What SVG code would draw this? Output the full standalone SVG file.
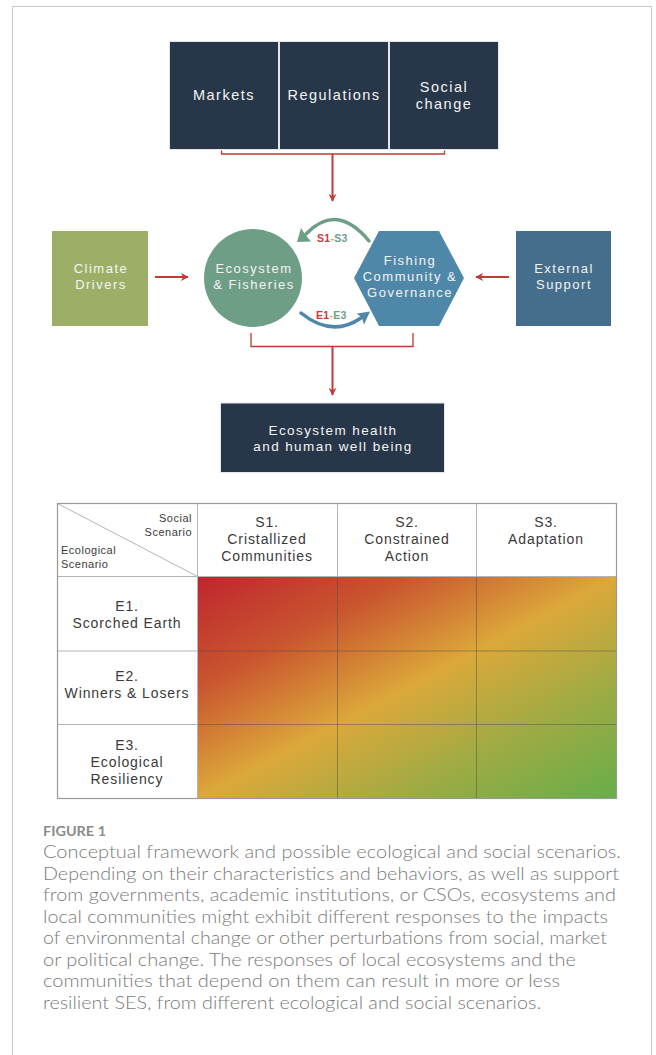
<svg xmlns="http://www.w3.org/2000/svg" width="656" height="1055" viewBox="0 0 656 1055">
<style>
.dark{fill:#273648;stroke:#e4e6e9;stroke-width:1}
.lbl{font-family:"Liberation Sans",Arial,sans-serif;fill:#f2f4f5;text-anchor:middle}
.big{font-size:14.5px;letter-spacing:1.5px}
.mid{font-size:13px;letter-spacing:1.5px}
.tbl{font-family:"Liberation Sans",Arial,sans-serif;fill:#3a3a3a;text-anchor:middle;font-size:14px;letter-spacing:0.9px}
.small{font-family:"Liberation Sans",Arial,sans-serif;fill:#3a3a3a;font-size:11px;letter-spacing:0.5px}
.tag{font-family:"Liberation Sans",Arial,sans-serif;font-weight:bold;font-size:10.5px;letter-spacing:0.3px}
.cap{font-family:Lato,"Open Sans",sans-serif;fill:#7a7a7a;font-size:17.5px;font-weight:300}
.red{stroke:#c23a33;fill:none}
.grid{stroke:#4a4a4a;stroke-opacity:0.45;stroke-width:1;fill:none}
.hgrid{stroke:#b4b4b4;stroke-width:1;fill:none}
</style>
<defs>
<marker id="ra" viewBox="0 0 10 10" refX="9" refY="5" markerWidth="8" markerHeight="9" markerUnits="userSpaceOnUse" orient="auto">
<path d="M0,0 L10,5 L0,10 L3,5 z" fill="#c23a33"/>
</marker>
<linearGradient id="heat" x1="0" y1="0" x2="1" y2="1">
<stop offset="0" stop-color="#c0252e"/>
<stop offset="0.25" stop-color="#c9552f"/>
<stop offset="0.5" stop-color="#dca83a"/>
<stop offset="0.75" stop-color="#9cab44"/>
<stop offset="1" stop-color="#66ae4a"/>
</linearGradient>
</defs>
<rect width="656" height="1055" fill="#ffffff"/>
<path d="M12.5,1055 V6.5 H651.5 V1055" fill="none" stroke="#c8c8c8" stroke-width="1"/>

<g id="markets"><rect class="dark" x="169.5" y="41.5" width="109" height="108"/><text class="lbl big" x="224" y="100">Markets</text></g>
<g id="regulations"><rect class="dark" x="279.5" y="41.5" width="109" height="108"/><text class="lbl big" x="334" y="100">Regulations</text></g>
<g id="social-change"><rect class="dark" x="389.5" y="41.5" width="109" height="108"/><text class="lbl big" x="444" y="92">Social</text><text class="lbl big" x="444" y="108.5">change</text></g>

<g id="climate"><rect x="52" y="231" width="96" height="95" fill="#9daf67"/><text class="lbl mid" x="101" y="273">Climate</text><text class="lbl mid" x="101" y="289">Drivers</text></g>
<g id="ecosystem"><circle cx="253" cy="278" r="49" fill="#6f9e86"/><text class="lbl mid" x="254" y="273">Ecosystem</text><text class="lbl mid" x="254" y="289">&amp; Fisheries</text></g>
<g id="community"><polygon points="354,278 379,231 439,231 464,278 439,326 379,326" fill="#4f87a8"/><text class="lbl mid" x="410" y="265">Fishing</text><text class="lbl mid" x="410" y="281">Community &amp;</text><text class="lbl mid" x="410" y="297">Governance</text></g>
<g id="external"><rect x="516" y="231" width="95" height="95" fill="#456e8c"/><text class="lbl mid" x="564" y="273">External</text><text class="lbl mid" x="564" y="289">Support</text></g>

<g id="outcome"><rect class="dark" x="220.5" y="403" width="224" height="69.5"/><text class="lbl mid" x="333" y="434.5" style="font-size:13.5px;letter-spacing:1.4px">Ecosystem health</text><text class="lbl mid" x="333" y="450.5" style="font-size:13.5px;letter-spacing:1.4px">and human well being</text></g>

<g id="connectors">
<path class="red" stroke-width="1.3" d="M221.5,150.5 V154 H444.5 V150.5"/>
<path class="red" stroke-width="2" d="M332.5,154 V201" marker-end="url(#ra)"/>
<path class="red" stroke-width="2" d="M155,277 H188" marker-end="url(#ra)"/>
<path class="red" stroke-width="2" d="M509,277 H476" marker-end="url(#ra)"/>
<path class="red" stroke-width="1.3" d="M251,333 V346.5 H413 V333"/>
<path class="red" stroke-width="2" d="M332.5,346.5 V395" marker-end="url(#ra)"/>
<path d="M369,241 Q337,202 306,234" fill="none" stroke="#6f9e86" stroke-width="3.5" stroke-linecap="round"/>
<polygon points="297,242 301,228 305.5,235 311,241.5" fill="#6f9e86"/>
<path d="M301,313 Q332,338 361,318" fill="none" stroke="#4f87a8" stroke-width="3.5" stroke-linecap="round"/>
<polygon points="370,311.5 357,313.5 362,318 364,324.5" fill="#4f87a8"/>
<text class="tag" x="317" y="241.5"><tspan fill="#c8383b">S1</tspan><tspan fill="#e8a33d">-</tspan><tspan fill="#6f9e86">S3</tspan></text>
<text class="tag" x="316" y="318.5"><tspan fill="#c8383b">E1</tspan><tspan fill="#e8a33d">-</tspan><tspan fill="#6f9e86">E3</tspan></text>
</g>

<g id="table">
<rect x="197.5" y="576.5" width="419" height="222" fill="url(#heat)"/>
<path class="grid" d="M337.5,576.5 V798.5 M476.5,576.5 V798.5 M197.5,651 H616.5 M197.5,724.5 H616.5"/>
<path class="hgrid" d="M57.5,576.5 H616.5 M197.5,503.5 V798.5 M337.5,503.5 V576.5 M476.5,503.5 V576.5 M57.5,651 H197.5 M57.5,724.5 H197.5 M57.5,503.5 L197.5,576.5"/>
<rect x="57.5" y="503.5" width="559" height="295" fill="none" stroke="#9a9a9a" stroke-width="1.2"/>
<text class="small" x="192" y="522" text-anchor="end">Social</text>
<text class="small" x="192" y="536" text-anchor="end">Scenario</text>
<text class="small" x="61" y="553.5">Ecological</text>
<text class="small" x="61" y="567.5">Scenario</text>
<text class="tbl" x="267" y="527">S1.</text><text class="tbl" x="267" y="544">Cristallized</text><text class="tbl" x="267" y="561">Communities</text>
<text class="tbl" x="407" y="527">S2.</text><text class="tbl" x="407" y="544">Constrained</text><text class="tbl" x="407" y="561">Action</text>
<text class="tbl" x="546" y="527">S3.</text><text class="tbl" x="546" y="544">Adaptation</text>
<text class="tbl" x="127" y="611">E1.</text><text class="tbl" x="127" y="628">Scorched Earth</text>
<text class="tbl" x="127" y="681">E2.</text><text class="tbl" x="127" y="698">Winners &amp; Losers</text>
<text class="tbl" x="127" y="750">E3.</text><text class="tbl" x="127" y="767">Ecological</text><text class="tbl" x="127" y="784">Resiliency</text>
</g>

<g id="caption">
<text x="43" y="836" textLength="63" lengthAdjust="spacingAndGlyphs" style="font-family:Lato,'Open Sans',sans-serif;font-size:13px;fill:#8a8a8a;font-weight:bold">FIGURE 1</text>
<text class="cap" x="43" y="858" textLength="578" lengthAdjust="spacingAndGlyphs">Conceptual framework and possible ecological and social scenarios.</text>
<text class="cap" x="43" y="879.5" textLength="576" lengthAdjust="spacingAndGlyphs">Depending on their characteristics and behaviors, as well as support</text>
<text class="cap" x="43" y="901" textLength="573" lengthAdjust="spacingAndGlyphs">from governments, academic institutions, or CSOs, ecosystems and</text>
<text class="cap" x="43" y="922.5" textLength="565" lengthAdjust="spacingAndGlyphs">local communities might exhibit different responses to the impacts</text>
<text class="cap" x="43" y="944" textLength="564" lengthAdjust="spacingAndGlyphs">of environmental change or other perturbations from social, market</text>
<text class="cap" x="43" y="965.5" textLength="533" lengthAdjust="spacingAndGlyphs">or political change. The responses of local ecosystems and the</text>
<text class="cap" x="43" y="987" textLength="517" lengthAdjust="spacingAndGlyphs">communities that depend on them can result in more or less</text>
<text class="cap" x="43" y="1008.5" textLength="498" lengthAdjust="spacingAndGlyphs">resilient SES, from different ecological and social scenarios.</text>
</g>
</svg>
